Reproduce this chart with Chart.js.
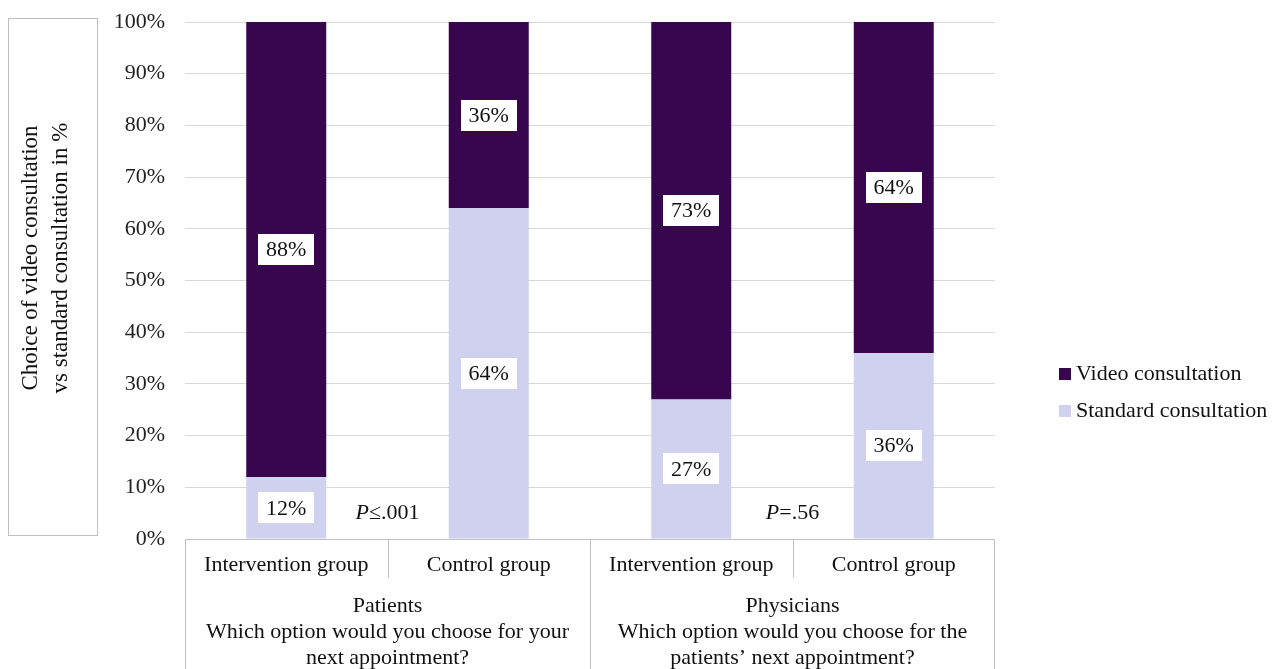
<!DOCTYPE html>
<html>
<head>
<meta charset="utf-8">
<script src="https://cdn.jsdelivr.net/npm/chart.js@4"></script>
<style>
html,body{margin:0;padding:0;background:#fff;}
#wrap{width:1272px;height:669px;position:relative;}
</style>
</head>
<body>
<div id="wrap"><canvas id="c" width="1272" height="669"></canvas></div>
<script>
const categories = ['Intervention group', 'Control group', 'Intervention group', 'Control group'];
const groupLabels = [
  ['Patients', 'Which option would you choose for your', 'next appointment?'],
  ['Physicians', 'Which option would you choose for the', 'patients\u2019 next appointment?']
];
const standardValues = [12, 64, 27, 36];
const videoValues = [88, 36, 73, 64];
const pValues = ['\u2264.001', '=.56'];
const pValueY = [5, 5];
const yAxisTitle = ['Choice of video consultation', 'vs standard consultation in %'];
const seriesNames = ['Video consultation', 'Standard consultation'];

const FONT = '"Liberation Serif", "Times New Roman", serif';
const DARK = '#38064f';
const LIGHT = '#cfd1ef';
const LINE = '#bfbfbf';

const overlay = {
  id: 'overlay',
  afterDatasetsDraw(chart) {
    const ctx = chart.ctx;
    const xs = chart.scales.x, ys = chart.scales.y;
    ctx.save();
    ctx.font = '22px ' + FONT;
    ctx.textAlign = 'center';
    ctx.textBaseline = 'middle';
    chart.data.datasets.forEach((ds, di) => {
      const meta = chart.getDatasetMeta(di);
      meta.data.forEach((bar, i) => {
        const txt = ds.data[i] + '%';
        const cy = (bar.y + bar.base) / 2;
        const w = ctx.measureText(txt).width + 16;
        const h = 31;
        ctx.fillStyle = '#fff';
        ctx.fillRect(Math.round(bar.x - w / 2), Math.round(cy - h / 2), Math.round(w), h);
        ctx.fillStyle = '#111';
        ctx.fillText(txt, bar.x, cy + 1);
      });
    });
    pValues.forEach((p, g) => {
      const x = (xs.getPixelForValue(g * 2) + xs.getPixelForValue(g * 2 + 1)) / 2;
      const y = ys.getPixelForValue(pValueY[g]);
      ctx.font = 'italic 22px ' + FONT;
      const w1 = ctx.measureText('P').width;
      ctx.font = '22px ' + FONT;
      const w2 = ctx.measureText(p).width;
      const start = x - (w1 + w2) / 2;
      ctx.textAlign = 'left';
      ctx.fillStyle = '#111';
      ctx.font = 'italic 22px ' + FONT;
      ctx.fillText('P', start, y);
      ctx.font = '22px ' + FONT;
      ctx.fillText(p, start + w1, y);
    });
    ctx.restore();
  },
  afterDraw(chart) {
    const ctx = chart.ctx;
    const ca = chart.chartArea;
    const xs = chart.scales.x;
    const H = chart.height;
    ctx.save();
    ctx.strokeStyle = LINE;
    ctx.lineWidth = 1;
    const top = Math.round(ca.bottom) + 0.5;
    const L = Math.round(ca.left) + 0.5, R = Math.round(ca.right) - 0.5;
    const mid = Math.round((ca.left + ca.right) / 2) + 0.5;
    ctx.beginPath();
    ctx.moveTo(L, top); ctx.lineTo(R, top);
    ctx.moveTo(L, top); ctx.lineTo(L, H);
    ctx.moveTo(R, top); ctx.lineTo(R, H);
    ctx.moveTo(mid, top); ctx.lineTo(mid, H);
    for (let g = 0; g < 2; g++) {
      const sx = Math.round((xs.getPixelForValue(g * 2) + xs.getPixelForValue(g * 2 + 1)) / 2) + 0.5;
      ctx.moveTo(sx, top); ctx.lineTo(sx, top + 38);
    }
    ctx.stroke();
    ctx.fillStyle = '#111';
    ctx.textAlign = 'center';
    ctx.textBaseline = 'middle';
    ctx.font = '22px ' + FONT;
    categories.forEach((c, i) => {
      ctx.fillText(c, xs.getPixelForValue(i), top + 26);
    });
    groupLabels.forEach((lines, g) => {
      const cx = (xs.getPixelForValue(g * 2) + xs.getPixelForValue(g * 2 + 1)) / 2;
      lines.forEach((ln, k) => {
        ctx.fillText(ln, cx, top + 67 + k * 26);
      });
    });
    ctx.strokeRect(8.5, 18.5, 89, 517);
    ctx.save();
    ctx.translate(46, 258);
    ctx.rotate(-Math.PI / 2);
    ctx.font = '23px ' + FONT;
    ctx.fillText(yAxisTitle[0], 0, -15);
    ctx.fillText(yAxisTitle[1], 0, 15);
    ctx.restore();
    const legendColors = [DARK, LIGHT];
    ctx.textAlign = 'left';
    ctx.font = '22px ' + FONT;
    seriesNames.forEach((n, k) => {
      const y = 374 + k * 37;
      ctx.fillStyle = legendColors[k];
      ctx.fillRect(1059, y - 6, 12, 12);
      ctx.fillStyle = '#111';
      ctx.fillText(n, 1076, y);
    });
    ctx.restore();
  }
};

new Chart(document.getElementById('c'), {
  type: 'bar',
  data: {
    labels: categories,
    datasets: [
      { label: seriesNames[1], data: standardValues, backgroundColor: LIGHT, borderWidth: 0 },
      { label: seriesNames[0], data: videoValues, backgroundColor: DARK, borderWidth: 0 }
    ]
  },
  options: {
    responsive: false,
    animation: false,
    layout: { padding: { left: 0, right: 277, top: 22, bottom: 130 } },
    plugins: { legend: { display: false }, tooltip: { enabled: false } },
    datasets: { bar: { categoryPercentage: 1, barPercentage: 0.395 } },
    scales: {
      x: { stacked: true, display: false },
      y: {
        stacked: true, min: 0, max: 100,
        afterFit(s) { s.width = 185; s.paddingTop = 0; s.paddingBottom = 0; },
        border: { display: false },
        grid: { color: '#d9d9d9', drawTicks: false },
        ticks: { stepSize: 10, padding: 20, color: '#222', font: { family: FONT, size: 22 }, callback: v => v + '%' }
      }
    }
  },
  plugins: [overlay]
});
</script>
</body>
</html>
